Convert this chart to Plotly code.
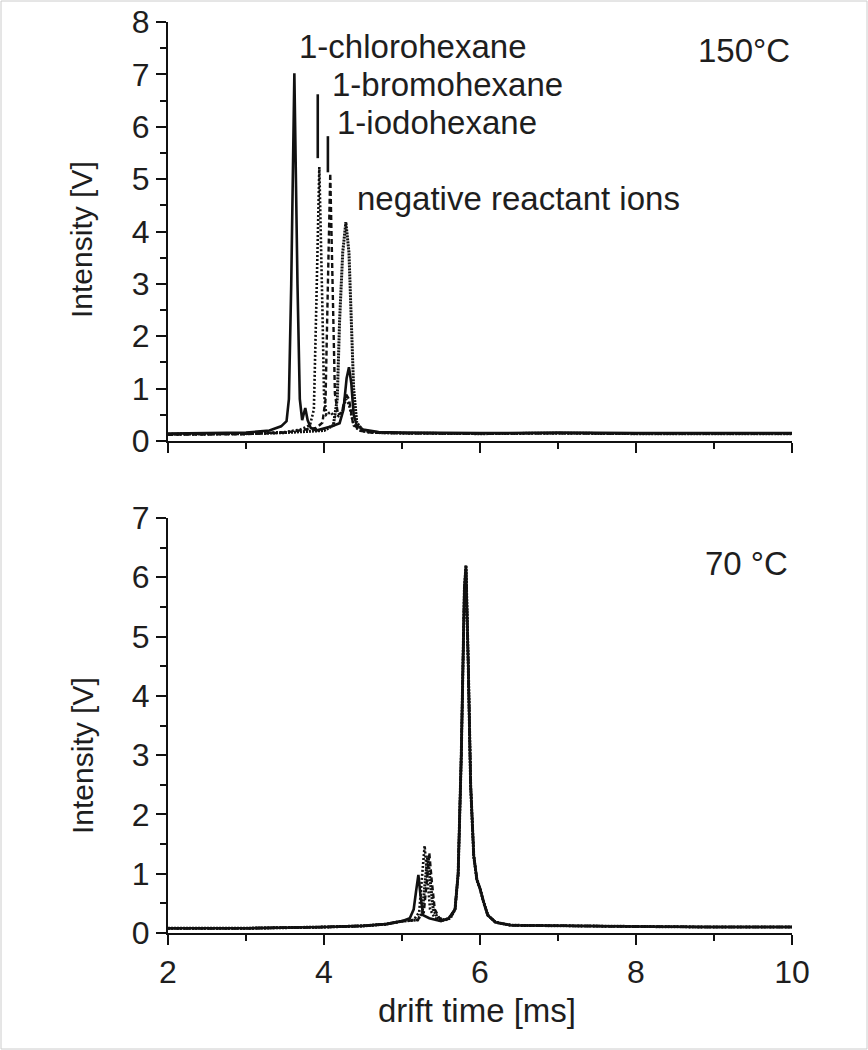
import plotly.graph_objects as go

# ---------------- data ----------------
# Top panel (150 °C)
top_chloro_x = [2.0, 2.5, 3.0, 3.3, 3.45, 3.52, 3.55, 3.58, 3.62, 3.66, 3.69, 3.72, 3.76, 3.79, 3.83, 3.9, 4.0, 4.1, 4.2, 4.25, 4.29, 4.32, 4.35, 4.38, 4.42, 4.5, 4.7, 5.0, 6.0, 7.0, 8.0, 9.0, 10.0]
top_chloro_y = [0.14, 0.15, 0.16, 0.2, 0.28, 0.38, 0.8, 3.0, 7.02, 3.0, 0.8, 0.4, 0.63, 0.4, 0.25, 0.2, 0.24, 0.28, 0.34, 0.6, 1.2, 1.41, 1.1, 0.5, 0.3, 0.22, 0.17, 0.16, 0.15, 0.16, 0.15, 0.15, 0.15]

top_bromo_x = [2.0, 3.0, 3.5, 3.7, 3.82, 3.87, 3.9, 3.94, 3.98, 4.0, 4.03, 4.08, 4.15, 4.22, 4.28, 4.32, 4.38, 4.45, 4.6, 5.0, 6.0, 7.0, 8.0, 9.0, 10.0]
top_bromo_y = [0.13, 0.14, 0.17, 0.22, 0.3, 0.6, 2.5, 5.23, 2.5, 0.9, 0.5, 0.55, 0.45, 0.5, 0.8, 0.7, 0.3, 0.2, 0.16, 0.15, 0.14, 0.15, 0.14, 0.14, 0.14]

top_iodo_x = [2.0, 3.0, 3.5, 3.7, 3.9, 3.98, 4.02, 4.05, 4.08, 4.11, 4.14, 4.18, 4.23, 4.28, 4.32, 4.37, 4.45, 4.6, 5.0, 6.0, 7.0, 8.0, 9.0, 10.0]
top_iodo_y = [0.12, 0.13, 0.16, 0.2, 0.25, 0.35, 0.8, 3.0, 5.11, 3.0, 0.9, 0.5, 0.55, 0.9, 0.8, 0.35, 0.2, 0.16, 0.15, 0.14, 0.15, 0.14, 0.14, 0.14]

top_rip_x = [2.0, 3.0, 3.5, 3.8, 4.0, 4.12, 4.17, 4.2, 4.24, 4.28, 4.32, 4.35, 4.38, 4.42, 4.5, 4.7, 5.0, 6.0, 7.0, 8.0, 9.0, 10.0]
top_rip_y = [0.13, 0.14, 0.16, 0.18, 0.2, 0.3, 0.8, 2.3, 3.6, 4.18, 3.6, 2.3, 1.0, 0.35, 0.2, 0.16, 0.15, 0.14, 0.15, 0.14, 0.14, 0.14]

# label leader lines (x, y_start, y_end)
leader_x = [3.92, 4.05]
leader_y_top = [6.62, 5.82]
leader_y_bot = [5.40, 5.13]

# Bottom panel (70 °C)
bot_chloro_x = [2.0, 3.0, 4.0, 4.5, 4.8, 5.0, 5.1, 5.15, 5.18, 5.21, 5.24, 5.27, 5.35, 5.5, 5.6, 5.68, 5.72, 5.76, 5.8, 5.82, 5.85, 5.88, 5.92, 5.96, 6.0, 6.04, 6.1, 6.2, 6.4, 7.0, 8.0, 9.0, 10.0]
bot_chloro_y = [0.08, 0.08, 0.1, 0.12, 0.15, 0.2, 0.25, 0.4, 0.7, 0.98, 0.6, 0.3, 0.25, 0.2, 0.25, 0.4, 1.0, 3.0, 5.8, 6.2, 4.5, 2.5, 1.3, 0.9, 0.75, 0.55, 0.3, 0.18, 0.13, 0.12, 0.11, 0.1, 0.1]

bot_bromo_x = [2.0, 3.0, 4.0, 4.5, 4.8, 5.0, 5.15, 5.22, 5.26, 5.29, 5.32, 5.36, 5.42, 5.5, 5.6, 5.68, 5.72, 5.76, 5.8, 5.82, 5.85, 5.88, 5.92, 5.96, 6.0, 6.04, 6.1, 6.2, 6.4, 7.0, 8.0, 9.0, 10.0]
bot_bromo_y = [0.08, 0.08, 0.1, 0.12, 0.15, 0.2, 0.22, 0.35, 1.0, 1.47, 1.0, 0.4, 0.25, 0.2, 0.25, 0.4, 1.0, 3.0, 5.8, 6.15, 4.5, 2.5, 1.3, 0.9, 0.75, 0.55, 0.3, 0.18, 0.13, 0.12, 0.11, 0.1, 0.1]

bot_iodo_x = [2.0, 3.0, 4.0, 4.5, 4.8, 5.0, 5.2, 5.28, 5.32, 5.35, 5.38, 5.42, 5.48, 5.55, 5.62, 5.68, 5.72, 5.76, 5.8, 5.82, 5.85, 5.88, 5.92, 5.96, 6.0, 6.04, 6.1, 6.2, 6.4, 7.0, 8.0, 9.0, 10.0]
bot_iodo_y = [0.08, 0.08, 0.1, 0.12, 0.15, 0.2, 0.22, 0.35, 0.9, 1.35, 0.9, 0.4, 0.25, 0.22, 0.25, 0.4, 1.0, 3.0, 5.8, 6.1, 4.5, 2.5, 1.3, 0.9, 0.75, 0.55, 0.3, 0.18, 0.13, 0.12, 0.11, 0.1, 0.1]

bot_rip_x = [2.0, 3.0, 4.0, 4.5, 4.8, 5.0, 5.2, 5.26, 5.3, 5.33, 5.36, 5.4, 5.46, 5.55, 5.62, 5.68, 5.72, 5.76, 5.8, 5.82, 5.85, 5.88, 5.92, 5.96, 6.0, 6.04, 6.1, 6.2, 6.4, 7.0, 8.0, 9.0, 10.0]
bot_rip_y = [0.08, 0.08, 0.1, 0.12, 0.15, 0.2, 0.22, 0.35, 0.9, 1.3, 0.9, 0.4, 0.25, 0.22, 0.25, 0.4, 1.0, 3.0, 5.8, 6.2, 4.5, 2.5, 1.3, 0.9, 0.75, 0.55, 0.3, 0.18, 0.13, 0.12, 0.11, 0.1, 0.1]

x_tickvals = [2, 4, 6, 8, 10]
top_y_tickvals = [0, 1, 2, 3, 4, 5, 6, 7, 8]
bot_y_tickvals = [0, 1, 2, 3, 4, 5, 6, 7]

# ---------------- figure ----------------
W, H = 868, 1050
FONT = "Liberation Sans, Arial, sans-serif"
FS_TEXT = 33
FS_TICK = 32
FS_VTITLE = 30
TXT = "#1e1e1e"

fig = go.Figure()

styles = {
    "solid": dict(color="#111", width=2.6, dash="solid"),
    "dot": dict(color="#111", width=2.6, dash="2px,2px"),
    "dash": dict(color="#111", width=2.4, dash="5px,3px"),
    "dense": dict(color="#111", width=3, dash="2px,1px"),
}

def add(xs, ys, style, xa, ya):
    fig.add_trace(go.Scatter(x=xs, y=ys, mode="lines", line=styles[style],
                             xaxis=xa, yaxis=ya, showlegend=False, hoverinfo="skip"))

add(top_rip_x, top_rip_y, "dense", "x", "y")
add(top_iodo_x, top_iodo_y, "dash", "x", "y")
add(top_bromo_x, top_bromo_y, "dot", "x", "y")
add(top_chloro_x, top_chloro_y, "solid", "x", "y")

for lx, y1, y2 in zip(leader_x, leader_y_top, leader_y_bot):
    fig.add_trace(go.Scatter(x=[lx, lx], y=[y1, y2], mode="lines",
                             line=dict(color="#111", width=2.6), xaxis="x", yaxis="y",
                             showlegend=False, hoverinfo="skip"))

add(bot_rip_x, bot_rip_y, "dense", "x2", "y2")
add(bot_iodo_x, bot_iodo_y, "dash", "x2", "y2")
add(bot_bromo_x, bot_bromo_y, "dot", "x2", "y2")
add(bot_chloro_x, bot_chloro_y, "solid", "x2", "y2")

xdom = [168 / W, 792 / W]
top_dom = [1 - 441 / H, 1 - 22 / H]
bot_dom = [1 - 933 / H, 1 - 518 / H]

axis_common = dict(showline=True, linecolor="#111", linewidth=2, ticks="outside",
                   tickcolor="#111", tickwidth=2, ticklen=10, showgrid=False,
                   zeroline=False, automargin=False,
                   tickfont=dict(family=FONT, size=FS_TICK, color=TXT))
minor_x = dict(ticks="outside", dtick=1, ticklen=6, tickwidth=2, tickcolor="#111")
minor_y = dict(ticks="outside", dtick=0.5, ticklen=6, tickwidth=2, tickcolor="#111")

fig.update_layout(
    template="none",
    width=W, height=H, autosize=False,
    margin=dict(l=0, r=0, t=0, b=0, pad=0),
    paper_bgcolor="white", plot_bgcolor="white",
    font=dict(family=FONT, size=FS_TEXT, color=TXT),
    xaxis=dict(domain=xdom, range=[2, 10], tickvals=x_tickvals, showticklabels=False,
               anchor="y", minor=minor_x, **axis_common),
    yaxis=dict(domain=top_dom, range=[0, 8], tickvals=top_y_tickvals, anchor="x",
               minor=minor_y, **axis_common),
    xaxis2=dict(domain=xdom, range=[2, 10], tickvals=x_tickvals, anchor="y2",
                minor=minor_x, **axis_common),
    yaxis2=dict(domain=bot_dom, range=[0, 7], tickvals=bot_y_tickvals, anchor="x2",
                minor=minor_y, **axis_common),
)

ann = [
    dict(text="1-chlorohexane", x=3.65, y=7.54, xref="x", yref="y", xanchor="left", size=FS_TEXT),
    dict(text="1-bromohexane", x=4.08, y=6.81, xref="x", yref="y", xanchor="left", size=FS_TEXT),
    dict(text="1-iodohexane", x=4.14, y=6.08, xref="x", yref="y", xanchor="left", size=FS_TEXT),
    dict(text="negative reactant ions", x=4.40, y=4.63, xref="x", yref="y", xanchor="left", size=FS_TEXT),
    dict(text="150°C", x=10.0, y=7.46, xref="x", yref="y", xanchor="right", size=FS_TEXT),
    dict(text="70 °C", x=9.97, y=6.24, xref="x2", yref="y2", xanchor="right", size=FS_TEXT),
    dict(text="Intensity [V]", x=82 / W, y=1 - 240 / H, xref="paper", yref="paper", textangle=-90,
         xanchor="center", size=FS_VTITLE),
    dict(text="Intensity [V]", x=82 / W, y=1 - 756 / H, xref="paper", yref="paper", textangle=-90,
         xanchor="center", size=FS_VTITLE),
    dict(text="drift time [ms]", x=477 / W, y=1 - 1010 / H, xref="paper", yref="paper",
         xanchor="center", size=FS_TEXT),
]
for a in ann:
    size = a.pop("size")
    a.update(showarrow=False, font=dict(family=FONT, size=size, color=TXT), yanchor="middle")
    fig.add_annotation(**a)

fig.add_shape(type="rect", xref="paper", yref="paper", x0=1 / W, x1=1 - 1 / W, y0=1 / H, y1=1 - 1 / H,
              line=dict(color="#cccccc", width=1))

fig.write_html("out.html", config={"displayModeBar": False},
               post_script="document.body.style.margin='0px';document.body.style.overflow='hidden';")
